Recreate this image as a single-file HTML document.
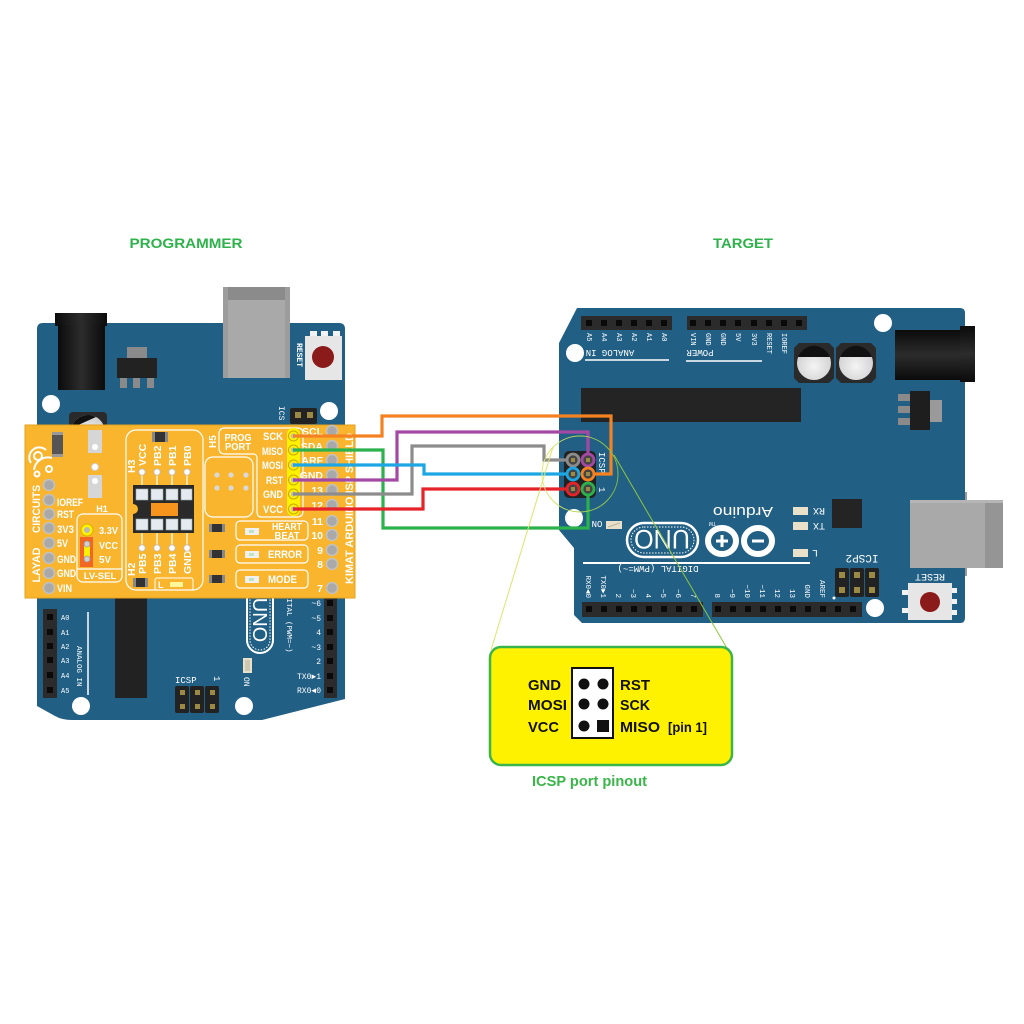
<!DOCTYPE html>
<html><head><meta charset="utf-8">
<style>
html,body{margin:0;padding:0;background:#fff;}
svg{display:block;}
.b{font-family:"Liberation Sans",sans-serif;font-weight:bold;fill:#fff;}
.s{font-family:"Liberation Sans",sans-serif;fill:#fff;}
.m{font-family:"Liberation Mono",monospace;fill:#fff;}
.k{font-family:"Liberation Sans",sans-serif;font-weight:bold;fill:#111;}
</style></head><body>
<svg width="1024" height="1024" viewBox="0 0 1024 1024" xmlns="http://www.w3.org/2000/svg">
<defs>
<linearGradient id="jack" x1="0" x2="1" y1="0" y2="0"><stop offset="0" stop-color="#0b0b0b"/><stop offset="0.5" stop-color="#2c2c2c"/><stop offset="1" stop-color="#0b0b0b"/></linearGradient>
<linearGradient id="jackv" x1="0" x2="0" y1="0" y2="1"><stop offset="0" stop-color="#0b0b0b"/><stop offset="0.5" stop-color="#2c2c2c"/><stop offset="1" stop-color="#0b0b0b"/></linearGradient>
<linearGradient id="circ" x1="0" x2="1" y1="0" y2="0"><stop offset="0" stop-color="#E3EA6E"/><stop offset="1" stop-color="#7DBE45"/></linearGradient>
<radialGradient id="cap" cx="0.5" cy="0.6" r="0.6"><stop offset="0" stop-color="#f4f4f4"/><stop offset="1" stop-color="#cfcfcf"/></radialGradient>
</defs>
<rect width="1024" height="1024" fill="#fff"/>

<!-- Titles -->
<text x="186" y="248" font-family="Liberation Sans, sans-serif" font-weight="bold" font-size="14" fill="#2DB34A" text-anchor="middle" textLength="113" lengthAdjust="spacingAndGlyphs">PROGRAMMER</text>
<text x="743" y="248" font-family="Liberation Sans, sans-serif" font-weight="bold" font-size="14" fill="#2DB34A" text-anchor="middle" textLength="60" lengthAdjust="spacingAndGlyphs">TARGET</text>

<!-- ================= PROGRAMMER BOARD ================= -->
<rect x="215" y="323" width="83" height="10" fill="#9a9a9a"/>
<path d="M43,323 H339 Q345,323 345,329 V699 L262,720 H72 Q62,720 55,716 L37,706 V329 Q37,323 43,323 Z" fill="#215F84"/>
<!-- power jack -->
<rect x="55" y="313" width="52" height="13" fill="url(#jack)"/>
<rect x="58" y="325" width="47" height="65" fill="url(#jack)"/>
<!-- regulator -->
<rect x="127" y="347" width="20" height="12" fill="#8a8a8a"/>
<rect x="117" y="358" width="40" height="20" fill="#222"/>
<rect x="120" y="378" width="7" height="10" fill="#8a8a8a"/>
<rect x="133" y="378" width="7" height="10" fill="#8a8a8a"/>
<rect x="147" y="378" width="7" height="10" fill="#8a8a8a"/>
<!-- USB -->
<rect x="223" y="287" width="67" height="91" fill="#a9a9a9"/>
<rect x="223" y="287" width="67" height="13" fill="#8b8b8b"/>
<rect x="223" y="287" width="5" height="91" fill="#9c9c9c"/>
<rect x="285" y="287" width="5" height="91" fill="#9c9c9c"/>
<!-- reset -->
<rect x="310" y="331" width="7" height="6" fill="#f2f2f2"/>
<rect x="321" y="331" width="7" height="6" fill="#f2f2f2"/>
<rect x="333" y="331" width="7" height="6" fill="#f2f2f2"/>
<rect x="305" y="336" width="37" height="44" fill="#e6e6e6"/>
<circle cx="323" cy="357" r="11" fill="#8b1a1a"/>
<text class="m" font-size="8" font-weight="bold" transform="translate(297,343) rotate(90)">RESET</text>
<!-- holes -->
<circle cx="51" cy="404" r="9" fill="#fff"/>
<circle cx="329" cy="411" r="9" fill="#fff"/>
<!-- small ICSP -->
<rect x="290" y="408" width="27" height="16" rx="2" fill="#222"/>
<rect x="295" y="412" width="6" height="6" fill="#9b8a45"/>
<rect x="307" y="412" width="6" height="6" fill="#9b8a45"/>
<text class="m" font-size="8" transform="translate(279,406) rotate(90)">ICS</text>
<!-- capacitor -->
<rect x="69" y="412" width="38" height="18" rx="4" fill="#2a2a2a"/>
<circle cx="88" cy="432" r="17" fill="url(#cap)"/>
<path d="M71.5,428 A17,17 0 0 1 96,417 Z" fill="#111"/>
<!-- lower section -->
<rect x="115" y="580" width="32" height="118" fill="#222"/>
<rect x="43" y="609" width="14" height="89" fill="#2b2b2b"/>
<rect x="47" y="614" width="6" height="6" fill="#0a0a0a"/>
<rect x="47" y="629" width="6" height="6" fill="#0a0a0a"/>
<rect x="47" y="643" width="6" height="6" fill="#0a0a0a"/>
<rect x="47" y="657" width="6" height="6" fill="#0a0a0a"/>
<rect x="47" y="672" width="6" height="6" fill="#0a0a0a"/>
<rect x="47" y="687" width="6" height="6" fill="#0a0a0a"/>
<g class="m" font-size="7">
<text x="61" y="620">A0</text><text x="61" y="635">A1</text><text x="61" y="649">A2</text>
<text x="61" y="663">A3</text><text x="61" y="678">A4</text><text x="61" y="693">A5</text>
</g>
<text class="m" font-size="7.5" transform="translate(77,646) rotate(90)">ANALOG IN</text>
<line x1="88" y1="612" x2="88" y2="695" stroke="#fff" stroke-width="1.5"/>
<!-- ICSP bottom -->
<rect x="175" y="686" width="14" height="27" rx="2" fill="#222"/>
<rect x="190" y="686" width="14" height="27" rx="2" fill="#222"/>
<rect x="205" y="686" width="14" height="27" rx="2" fill="#222"/>
<rect x="180" y="690" width="5" height="5" fill="#9b8a45"/><rect x="195" y="690" width="5" height="5" fill="#9b8a45"/><rect x="210" y="690" width="5" height="5" fill="#9b8a45"/>
<rect x="180" y="704" width="5" height="5" fill="#9b8a45"/><rect x="195" y="704" width="5" height="5" fill="#9b8a45"/><rect x="210" y="704" width="5" height="5" fill="#9b8a45"/>
<text class="m" font-size="9" x="175" y="683">ICSP</text>
<text class="m" font-size="9" transform="translate(214,676) rotate(90)">1</text>
<!-- ON led -->
<rect x="243" y="658" width="9" height="15" fill="#e8e0c8"/>
<rect x="245" y="660" width="5" height="11" fill="#cfc7b0"/>
<text class="m" font-size="8" transform="translate(244,677) rotate(90)">ON</text>
<circle cx="81" cy="706" r="9" fill="#fff"/>
<circle cx="244" cy="706" r="9" fill="#fff"/>
<!-- UNO oval -->
<rect x="247" y="560" width="26" height="93" rx="13" fill="none" stroke="#fff" stroke-width="2"/>
<rect x="250" y="563" width="20" height="87" rx="10" fill="none" stroke="#fff" stroke-width="1" stroke-dasharray="1.5,1.5"/>
<text class="s" font-size="20" text-anchor="middle" transform="translate(253,620) rotate(90)">UNO</text>
<text class="m" font-size="7.5" transform="translate(287,585) rotate(90)">DIGITAL (PWM=~)</text>
<rect x="324" y="596" width="13" height="102" fill="#2b2b2b"/>
<rect x="327" y="600" width="6" height="6" fill="#0a0a0a"/>
<rect x="327" y="615" width="6" height="6" fill="#0a0a0a"/>
<rect x="327" y="629" width="6" height="6" fill="#0a0a0a"/>
<rect x="327" y="644" width="6" height="6" fill="#0a0a0a"/>
<rect x="327" y="658" width="6" height="6" fill="#0a0a0a"/>
<rect x="327" y="673" width="6" height="6" fill="#0a0a0a"/>
<rect x="327" y="687" width="6" height="6" fill="#0a0a0a"/>
<g class="m" font-size="8" text-anchor="end">
<text x="321" y="606">~6</text><text x="321" y="621">~5</text><text x="321" y="635">4</text>
<text x="321" y="650">~3</text><text x="321" y="664">2</text><text x="321" y="679">TX0►1</text><text x="321" y="693">RX0◄0</text>
</g>

<!-- ================= SHIELD ================= -->
<rect x="25" y="425" width="330" height="173" fill="#F8B52D" stroke="#E3A11F" stroke-width="1"/>
<!-- SMD left -->
<rect x="52" y="432" width="11" height="25" fill="#555"/>
<rect x="52" y="432" width="11" height="3" fill="#999"/>
<rect x="52" y="454" width="11" height="3" fill="#999"/>
<!-- logo -->
<g fill="none" stroke="#fff" stroke-width="2">
<circle cx="38" cy="456" r="4"/>
<path d="M31,463 A10,10 0 0 1 46,450"/>
<path d="M34,470 A14,14 0 0 1 52,458"/>
<circle cx="49" cy="469" r="3"/>
<circle cx="37" cy="474" r="2.5"/>
</g>
<!-- white pads -->
<rect x="88" y="430" width="14" height="23" fill="#d6d6d6"/>
<circle cx="95" cy="447" r="3" fill="#fff"/>
<circle cx="95" cy="467" r="3.5" fill="#fff" stroke="#cfcfcf"/>
<rect x="88" y="475" width="14" height="23" fill="#d6d6d6"/>
<circle cx="95" cy="481" r="3" fill="#fff"/>
<!-- left pins -->
<g fill="#a9a9a9" stroke="#c2c2c2" stroke-width="1.5">
<circle cx="49" cy="485" r="5.5"/><circle cx="49" cy="500" r="5.5"/><circle cx="49" cy="514" r="5.5"/>
<circle cx="49" cy="528" r="5.5"/><circle cx="49" cy="543" r="5.5"/><circle cx="49" cy="558" r="5.5"/>
<circle cx="49" cy="573" r="5.5"/><circle cx="49" cy="588" r="5.5"/>
</g>
<g class="b" font-size="11">
<text x="57" y="506" textLength="26" lengthAdjust="spacingAndGlyphs">IOREF</text>
<text x="57" y="518" textLength="17" lengthAdjust="spacingAndGlyphs">RST</text>
<text x="57" y="533" textLength="17" lengthAdjust="spacingAndGlyphs">3V3</text>
<text x="57" y="547" textLength="11" lengthAdjust="spacingAndGlyphs">5V</text>
<text x="57" y="563" textLength="19" lengthAdjust="spacingAndGlyphs">GND</text>
<text x="57" y="577" textLength="19" lengthAdjust="spacingAndGlyphs">GND</text>
<text x="57" y="592" textLength="15" lengthAdjust="spacingAndGlyphs">VIN</text>
</g>
<text class="b" font-size="11" text-anchor="middle" transform="translate(40,509) rotate(-90)" textLength="48" lengthAdjust="spacingAndGlyphs">CIRCUITS</text>
<text class="b" font-size="11" text-anchor="middle" transform="translate(40,565) rotate(-90)" textLength="35" lengthAdjust="spacingAndGlyphs">LAYAD</text>
<!-- LV-SEL -->
<text class="b" font-size="9" x="102" y="512" text-anchor="middle">H1</text>
<rect x="77" y="514" width="45" height="68" rx="6" fill="none" stroke="#fff" stroke-width="1.2"/>
<line x1="77" y1="569" x2="122" y2="569" stroke="#fff" stroke-width="1.2"/>
<text class="b" font-size="9.5" x="100" y="579" text-anchor="middle">LV-SEL</text>
<circle cx="87" cy="530" r="6" fill="#FFF200" stroke="#d9b000" stroke-width="1"/>
<circle cx="87" cy="530" r="3" fill="#b8b8b8"/>
<rect x="80" y="537" width="13" height="30" fill="#F26522"/>
<rect x="84" y="546" width="6" height="11" fill="#FFF200"/>
<circle cx="87" cy="544" r="3" fill="#cfcfcf" stroke="#999" stroke-width="0.8"/>
<circle cx="87" cy="559" r="3" fill="#cfcfcf" stroke="#999" stroke-width="0.8"/>
<g class="b" font-size="10.5">
<text x="99" y="534" textLength="19" lengthAdjust="spacingAndGlyphs">3.3V</text>
<text x="99" y="549" textLength="19" lengthAdjust="spacingAndGlyphs">VCC</text>
<text x="99" y="563" textLength="12" lengthAdjust="spacingAndGlyphs">5V</text>
</g>
<!-- IC area -->
<rect x="126" y="430" width="77" height="160" rx="10" fill="none" stroke="#fff" stroke-width="1.2"/>
<rect x="152" y="432" width="16" height="10" fill="#333"/>
<rect x="152" y="432" width="3" height="10" fill="#888"/><rect x="165" y="432" width="3" height="10" fill="#888"/>
<g class="b" font-size="10.5">
<text transform="translate(135,473) rotate(-90)">H3</text>
<text transform="translate(146,466) rotate(-90)">VCC</text>
<text transform="translate(161,466) rotate(-90)">PB2</text>
<text transform="translate(176,466) rotate(-90)">PB1</text>
<text transform="translate(191,466) rotate(-90)">PB0</text>
<text transform="translate(135,576) rotate(-90)">H2</text>
<text transform="translate(146,574) rotate(-90)">PB5</text>
<text transform="translate(161,574) rotate(-90)">PB3</text>
<text transform="translate(176,574) rotate(-90)">PB4</text>
<text transform="translate(191,574) rotate(-90)">GND</text>
</g>
<g stroke="#fff" stroke-width="1.2">
<line x1="142" y1="472" x2="142" y2="486"/><line x1="157" y1="472" x2="157" y2="486"/><line x1="172" y1="472" x2="172" y2="486"/><line x1="187" y1="472" x2="187" y2="486"/>
<line x1="142" y1="532" x2="142" y2="548"/><line x1="157" y1="532" x2="157" y2="548"/><line x1="172" y1="532" x2="172" y2="548"/><line x1="187" y1="532" x2="187" y2="548"/>
</g>
<g fill="#fff" stroke="#bbb" stroke-width="0.8">
<circle cx="142" cy="472" r="3.2"/><circle cx="157" cy="472" r="3.2"/><circle cx="172" cy="472" r="3.2"/><circle cx="187" cy="472" r="3.2"/>
<circle cx="142" cy="548" r="3.2"/><circle cx="157" cy="548" r="3.2"/><circle cx="172" cy="548" r="3.2"/><circle cx="187" cy="548" r="3.2"/>
</g>
<rect x="133" y="485" width="61" height="48" fill="#2a2a2a"/>
<circle cx="133" cy="509" r="5" fill="#F8B52D"/>
<g fill="#e4eaf0" stroke="#9aa" stroke-width="0.6">
<rect x="136" y="489" width="12" height="11"/><rect x="151" y="489" width="12" height="11"/><rect x="166" y="489" width="12" height="11"/><rect x="181" y="489" width="11" height="11"/>
<rect x="136" y="519" width="12" height="11"/><rect x="151" y="519" width="12" height="11"/><rect x="166" y="519" width="12" height="11"/><rect x="181" y="519" width="11" height="11"/>
</g>
<rect x="151" y="503" width="27" height="13" fill="#F7941D"/>
<rect x="133" y="578" width="15" height="9" fill="#333"/>
<rect x="133" y="578" width="3" height="9" fill="#888"/><rect x="145" y="578" width="3" height="9" fill="#888"/>
<rect x="155" y="578" width="38" height="12" rx="2" fill="none" stroke="#fff" stroke-width="1"/>
<text class="b" font-size="9" x="158" y="588">L</text>
<rect x="170" y="582" width="13" height="5" fill="#FFF799"/>
<!-- H5 -->
<text class="b" font-size="10" transform="translate(216,448) rotate(-90)">H5</text>
<rect x="205" y="457" width="48" height="60" rx="8" fill="none" stroke="#fff" stroke-width="1.2"/>
<g fill="#d9d9d9">
<circle cx="217" cy="475" r="2.6"/><circle cx="231" cy="475" r="2.6"/><circle cx="246" cy="475" r="2.6"/>
<circle cx="217" cy="488" r="2.6"/><circle cx="231" cy="488" r="2.6"/><circle cx="246" cy="488" r="2.6"/>
</g>
<!-- PROG PORT -->
<path d="M225,428 H297 Q303,428 303,434 V511 Q303,517 297,517 H261 Q257,517 257,511 V458 Q257,454 253,454 H225 Q219,454 219,448 V434 Q219,428 225,428 Z" fill="none" stroke="#fff" stroke-width="1.2"/>
<text class="b" font-size="10" x="238" y="441" text-anchor="middle" textLength="27" lengthAdjust="spacingAndGlyphs">PROG</text>
<text class="b" font-size="10" x="238" y="450" text-anchor="middle" textLength="26" lengthAdjust="spacingAndGlyphs">PORT</text>
<g class="b" font-size="11" text-anchor="end">
<text x="283" y="440" textLength="20" lengthAdjust="spacingAndGlyphs">SCK</text>
<text x="283" y="455" textLength="21" lengthAdjust="spacingAndGlyphs">MISO</text>
<text x="283" y="469" textLength="21" lengthAdjust="spacingAndGlyphs">MOSI</text>
<text x="283" y="484" textLength="17" lengthAdjust="spacingAndGlyphs">RST</text>
<text x="283" y="498" textLength="20" lengthAdjust="spacingAndGlyphs">GND</text>
<text x="283" y="513" textLength="20" lengthAdjust="spacingAndGlyphs">VCC</text>
</g>
<rect x="287" y="428" width="13" height="88" rx="6" fill="#FFF200"/>
<g fill="#FFF200" stroke="#c9a800" stroke-width="1">
<circle cx="293.5" cy="436" r="5"/><circle cx="293.5" cy="450" r="5"/><circle cx="293.5" cy="465" r="5"/>
<circle cx="293.5" cy="480" r="5"/><circle cx="293.5" cy="494" r="5"/><circle cx="293.5" cy="509" r="5"/>
</g>
<g fill="#bdbdbd">
<circle cx="293.5" cy="436" r="2.6"/><circle cx="293.5" cy="450" r="2.6"/><circle cx="293.5" cy="465" r="2.6"/>
<circle cx="293.5" cy="480" r="2.6"/><circle cx="293.5" cy="494" r="2.6"/><circle cx="293.5" cy="509" r="2.6"/>
</g>
<!-- LED boxes -->
<rect x="236" y="521" width="72" height="19" rx="4" fill="none" stroke="#fff" stroke-width="1.2"/>
<rect x="236" y="545" width="72" height="18" rx="4" fill="none" stroke="#fff" stroke-width="1.2"/>
<rect x="236" y="570" width="72" height="18" rx="4" fill="none" stroke="#fff" stroke-width="1.2"/>
<g fill="#f0f0f0"><rect x="245" y="528" width="14" height="7"/><rect x="245" y="551" width="14" height="7"/><rect x="245" y="576" width="14" height="7"/></g>
<g fill="#bfe3c0"><rect x="249" y="530" width="5" height="3"/><rect x="249" y="553" width="5" height="3"/><rect x="249" y="578" width="5" height="3"/></g>
<g fill="#333"><rect x="209" y="524" width="16" height="8"/><rect x="209" y="550" width="16" height="8"/><rect x="209" y="575" width="16" height="8"/></g>
<g fill="#888"><rect x="209" y="524" width="3" height="8"/><rect x="222" y="524" width="3" height="8"/><rect x="209" y="550" width="3" height="8"/><rect x="222" y="550" width="3" height="8"/><rect x="209" y="575" width="3" height="8"/><rect x="222" y="575" width="3" height="8"/></g>
<text class="b" font-size="10" x="287" y="530" text-anchor="middle" textLength="30" lengthAdjust="spacingAndGlyphs">HEART</text>
<text class="b" font-size="10" x="287" y="539" text-anchor="middle" textLength="25" lengthAdjust="spacingAndGlyphs">BEAT</text>
<text class="b" font-size="11" x="268" y="558" textLength="34" lengthAdjust="spacingAndGlyphs">ERROR</text>
<text class="b" font-size="11" x="268" y="583" textLength="29" lengthAdjust="spacingAndGlyphs">MODE</text>
<!-- right pins -->
<g fill="#a9a9a9" stroke="#c2c2c2" stroke-width="1.5">
<circle cx="332" cy="431" r="5.5"/><circle cx="332" cy="446" r="5.5"/><circle cx="332" cy="460" r="5.5"/>
<circle cx="332" cy="475" r="5.5"/><circle cx="332" cy="490" r="5.5"/><circle cx="332" cy="505" r="5.5"/>
<circle cx="332" cy="521" r="5.5"/><circle cx="332" cy="535" r="5.5"/><circle cx="332" cy="550" r="5.5"/>
<circle cx="332" cy="564" r="5.5"/><circle cx="332" cy="588" r="5.5"/>
</g>
<g class="b" font-size="10.5" text-anchor="end">
<text x="323" y="435">SCL</text><text x="323" y="450">SDA</text><text x="323" y="464">ARF</text>
<text x="323" y="479">GND</text><text x="323" y="494">13</text><text x="323" y="509">12</text>
<text x="323" y="525">11</text><text x="323" y="539">10</text><text x="323" y="554">9</text>
<text x="323" y="568">8</text><text x="323" y="592">7</text>
</g>
<text class="b" font-size="11" transform="translate(353,584) rotate(-90)" textLength="151" lengthAdjust="spacingAndGlyphs">KIMAT ARDUINO ISP SHIELD</text>

<!-- ================= TARGET BOARD ================= -->
<rect x="955" y="492" width="12" height="84" fill="#9a9a9a"/>
<path d="M577,308 H960 Q965,308 965,313 V618 Q965,623 960,623 H582 L574,615 V548 L559,530 V343 Z" fill="#215F84"/>
<!-- analog header -->
<rect x="581" y="316" width="91" height="14" fill="#2b2b2b"/>
<g fill="#0a0a0a">
<rect x="586" y="320" width="6" height="6"/><rect x="601" y="320" width="6" height="6"/><rect x="616" y="320" width="6" height="6"/>
<rect x="631" y="320" width="6" height="6"/><rect x="646" y="320" width="6" height="6"/><rect x="661" y="320" width="6" height="6"/>
</g>
<g class="m" font-size="7">
<text transform="translate(587,333) rotate(90)">A5</text><text transform="translate(602,333) rotate(90)">A4</text>
<text transform="translate(617,333) rotate(90)">A3</text><text transform="translate(632,333) rotate(90)">A2</text>
<text transform="translate(647,333) rotate(90)">A1</text><text transform="translate(662,333) rotate(90)">A0</text>
</g>
<text class="m" font-size="9" text-anchor="middle" transform="translate(610,350) rotate(180)">ANALOG IN</text>
<line x1="585" y1="360" x2="669" y2="360" stroke="#fff" stroke-width="1.5"/>
<!-- power header -->
<rect x="687" y="316" width="120" height="14" fill="#2b2b2b"/>
<g fill="#0a0a0a">
<rect x="690" y="320" width="6" height="6"/><rect x="705" y="320" width="6" height="6"/><rect x="720" y="320" width="6" height="6"/>
<rect x="735" y="320" width="6" height="6"/><rect x="751" y="320" width="6" height="6"/><rect x="766" y="320" width="6" height="6"/>
<rect x="781" y="320" width="6" height="6"/><rect x="796" y="320" width="6" height="6"/>
</g>
<g class="m" font-size="7">
<text transform="translate(691,333) rotate(90)">VIN</text><text transform="translate(706,333) rotate(90)">GND</text>
<text transform="translate(721,333) rotate(90)">GND</text><text transform="translate(736,333) rotate(90)">5V</text>
<text transform="translate(752,333) rotate(90)">3V3</text><text transform="translate(767,333) rotate(90)">RESET</text>
<text transform="translate(782,333) rotate(90)">IOREF</text>
</g>
<text class="m" font-size="9" text-anchor="middle" transform="translate(700,350) rotate(180)">POWER</text>
<line x1="686" y1="361" x2="762" y2="361" stroke="#fff" stroke-width="1.5"/>
<!-- capacitors -->
<path d="M799,343 H829 L834,348 V378 L829,383 H799 L794,378 V348 Z" fill="#2a2a2a"/>
<circle cx="814" cy="363" r="17" fill="url(#cap)"/>
<path d="M798,357 A17,17 0 0 1 830,357 Z" fill="#111"/>
<path d="M841,343 H871 L876,348 V378 L871,383 H841 L836,378 V348 Z" fill="#2a2a2a"/>
<circle cx="856" cy="363" r="17" fill="url(#cap)"/>
<path d="M840,357 A17,17 0 0 1 872,357 Z" fill="#111"/>
<!-- power jack -->
<rect x="895" y="330" width="67" height="50" fill="url(#jackv)"/>
<rect x="960" y="326" width="15" height="56" fill="url(#jackv)"/>
<!-- regulator -->
<rect x="898" y="394" width="13" height="7" fill="#8a8a8a"/>
<rect x="898" y="406" width="13" height="7" fill="#8a8a8a"/>
<rect x="898" y="418" width="13" height="7" fill="#8a8a8a"/>
<rect x="929" y="400" width="13" height="22" fill="#9a9a9a"/>
<rect x="910" y="391" width="20" height="39" fill="#1e1e1e"/>
<!-- chip -->
<rect x="581" y="388" width="220" height="34" fill="#242424"/>
<!-- holes -->
<circle cx="575" cy="353" r="9" fill="#fff"/>
<circle cx="883" cy="323" r="9" fill="#fff"/>
<circle cx="574" cy="518" r="9" fill="#fff"/>
<circle cx="875" cy="608" r="9" fill="#fff"/>
<!-- ICSP target -->
<rect x="564" y="451" width="32" height="47" rx="5" fill="#222"/>
<text class="m" font-size="9" transform="translate(599,452) rotate(90)">ICSP</text>
<text class="m" font-size="9" transform="translate(599,487) rotate(90)">1</text>
<!-- ON led -->
<text class="m" font-size="9" text-anchor="middle" transform="translate(597,521) rotate(180)">ON</text>
<rect x="606" y="521" width="16" height="8" fill="#e8e0c8"/>
<line x1="608" y1="527" x2="620" y2="523" stroke="#bdb59d" stroke-width="1"/>
<!-- UNO oval -->
<rect x="627" y="523" width="71" height="34" rx="17" fill="none" stroke="#fff" stroke-width="2.5"/>
<rect x="631" y="527" width="63" height="26" rx="13" fill="none" stroke="#fff" stroke-width="1" stroke-dasharray="1.5,1.5"/>
<text class="s" font-size="27" text-anchor="middle" transform="translate(662,530) rotate(180)" textLength="56" lengthAdjust="spacingAndGlyphs">UNO</text>
<!-- Arduino logo -->
<ellipse cx="722" cy="541" rx="14" ry="13" fill="none" stroke="#fff" stroke-width="6"/>
<ellipse cx="758" cy="541" rx="14" ry="13" fill="none" stroke="#fff" stroke-width="6"/>
<rect x="716" y="539.5" width="12" height="3" fill="#fff"/><rect x="720.5" y="535" width="3" height="12" fill="#fff"/>
<rect x="752" y="539.5" width="12" height="3" fill="#fff"/>
<text class="s" font-size="15" text-anchor="middle" transform="translate(743,507) rotate(180)" textLength="60" lengthAdjust="spacingAndGlyphs">Arduino</text>
<text class="s" font-size="5" transform="translate(716,522) rotate(180)">TM</text>
<!-- RX TX L -->
<g fill="#e8e0c8"><rect x="793" y="507" width="15" height="8"/><rect x="793" y="522" width="15" height="8"/><rect x="793" y="549" width="15" height="8"/></g>
<text class="m" font-size="10" text-anchor="middle" transform="translate(819,508) rotate(180)">RX</text>
<text class="m" font-size="10" text-anchor="middle" transform="translate(819,523) rotate(180)">TX</text>
<text class="m" font-size="10" text-anchor="middle" transform="translate(815,550) rotate(180)">L</text>
<rect x="832" y="499" width="30" height="29" fill="#242424"/>
<!-- USB -->
<rect x="910" y="500" width="93" height="68" fill="#a9a9a9"/>
<rect x="985" y="500" width="18" height="68" fill="#959595"/>
<rect x="910" y="500" width="93" height="3" fill="#b5b5b5"/>
<!-- reset -->
<rect x="902" y="590" width="7" height="5" fill="#f2f2f2"/><rect x="902" y="608" width="7" height="5" fill="#f2f2f2"/>
<rect x="951" y="588" width="6" height="5" fill="#f2f2f2"/><rect x="951" y="599" width="6" height="5" fill="#f2f2f2"/><rect x="951" y="610" width="6" height="5" fill="#f2f2f2"/>
<rect x="908" y="583" width="44" height="37" fill="#e6e6e6"/>
<circle cx="930" cy="602" r="10" fill="#8b1a1a"/>
<text class="m" font-size="10" text-anchor="middle" transform="translate(930,574) rotate(180)">RESET</text>
<!-- ICSP2 -->
<rect x="835" y="568" width="14" height="29" rx="2" fill="#222"/>
<rect x="850" y="568" width="14" height="29" rx="2" fill="#222"/>
<rect x="865" y="568" width="14" height="29" rx="2" fill="#222"/>
<g fill="#9b8a45"><rect x="839" y="572" width="6" height="6"/><rect x="854" y="572" width="6" height="6"/><rect x="869" y="572" width="6" height="6"/>
<rect x="839" y="587" width="6" height="6"/><rect x="854" y="587" width="6" height="6"/><rect x="869" y="587" width="6" height="6"/></g>
<text class="m" font-size="11" text-anchor="middle" transform="translate(862,555) rotate(180)">ICSP2</text>
<line x1="583" y1="563" x2="810" y2="563" stroke="#fff" stroke-width="2"/>
<text class="m" font-size="9" text-anchor="middle" transform="translate(658,566) rotate(180)">DIGITAL (PWM=~)</text>
<circle cx="834" cy="598" r="1.5" fill="#fff"/>
<!-- digital headers -->
<rect x="582" y="602" width="121" height="15" fill="#2b2b2b"/>
<rect x="712" y="602" width="150" height="15" fill="#2b2b2b"/>
<g fill="#0a0a0a">
<rect x="586" y="606" width="6" height="6"/><rect x="601" y="606" width="6" height="6"/><rect x="616" y="606" width="6" height="6"/><rect x="631" y="606" width="6" height="6"/>
<rect x="646" y="606" width="6" height="6"/><rect x="661" y="606" width="6" height="6"/><rect x="676" y="606" width="6" height="6"/><rect x="691" y="606" width="6" height="6"/>
<rect x="715" y="606" width="6" height="6"/><rect x="730" y="606" width="6" height="6"/><rect x="745" y="606" width="6" height="6"/><rect x="760" y="606" width="6" height="6"/>
<rect x="775" y="606" width="6" height="6"/><rect x="790" y="606" width="6" height="6"/><rect x="805" y="606" width="6" height="6"/><rect x="820" y="606" width="6" height="6"/>
<rect x="835" y="606" width="6" height="6"/><rect x="850" y="606" width="6" height="6"/>
</g>
<g class="m" font-size="7.5" text-anchor="end">
<text transform="translate(586,598) rotate(90)">RX0◄0</text>
<text transform="translate(601,598) rotate(90)">TX0►1</text>
<text transform="translate(616,598) rotate(90)">2</text>
<text transform="translate(631,598) rotate(90)">~3</text>
<text transform="translate(646,598) rotate(90)">4</text>
<text transform="translate(661,598) rotate(90)">~5</text>
<text transform="translate(676,598) rotate(90)">~6</text>
<text transform="translate(691,598) rotate(90)">7</text>
<text transform="translate(715,598) rotate(90)">8</text>
<text transform="translate(730,598) rotate(90)">~9</text>
<text transform="translate(745,598) rotate(90)">~10</text>
<text transform="translate(760,598) rotate(90)">~11</text>
<text transform="translate(775,598) rotate(90)">12</text>
<text transform="translate(790,598) rotate(90)">13</text>
<text transform="translate(805,598) rotate(90)">GND</text>
<text transform="translate(820,598) rotate(90)">AREF</text>
</g>

<!-- ================= WIRES ================= -->
<g fill="none" stroke-width="3.2" stroke-linejoin="miter">
<path d="M293,450 H383 V528 H588 V489" stroke="#2BB24C"/>
<path d="M293,494 H412 V446 H544 V460 H573" stroke="#8C8C8C"/>
<path d="M293,480 H397 V432 H588 V460" stroke="#A349A4"/>
<path d="M293,465 H424 V474 H573" stroke="#1CA6E3"/>
<path d="M293,509 H423 V489 H573" stroke="#E52328"/>
<path d="M293,436 H382 V416 H611 V474 H588" stroke="#F58220"/>
</g>
<!-- ICSP pads with rings -->
<g stroke-width="2.8" fill="#444">
<circle cx="573" cy="460" r="6" stroke="#8C8C8C"/>
<circle cx="588" cy="460" r="6" stroke="#A349A4"/>
<circle cx="573" cy="474" r="6" stroke="#1CA6E3"/>
<circle cx="588" cy="474" r="6" stroke="#F58220"/>
<circle cx="573" cy="489" r="6" stroke="#E52328"/>
<circle cx="588" cy="489" r="6" stroke="#2BB24C"/>
</g>
<g fill="#9b8a45">
<rect x="571" y="458" width="4" height="4"/><rect x="586" y="458" width="4" height="4"/>
<rect x="571" y="472" width="4" height="4"/><rect x="586" y="472" width="4" height="4"/>
<rect x="571" y="487" width="4" height="4"/><rect x="586" y="487" width="4" height="4"/>
</g>

<!-- callout circle and lines -->
<circle cx="580" cy="474" r="38" fill="none" stroke="url(#circ)" stroke-width="1"/>
<line x1="553" y1="447" x2="491" y2="650" stroke="#DCE56A" stroke-width="1"/>
<line x1="614" y1="455" x2="728" y2="650" stroke="#8DC63F" stroke-width="1"/>

<!-- ================= ICSP PINOUT BOX ================= -->
<rect x="490" y="647" width="242" height="118" rx="11" fill="#FFF200" stroke="#3AB54A" stroke-width="2.5"/>
<rect x="572" y="668" width="41" height="70" fill="#fff" stroke="#111" stroke-width="2"/>
<g fill="#111">
<circle cx="584" cy="684" r="5.5"/><circle cx="603" cy="684" r="5.5"/>
<circle cx="584" cy="704" r="5.5"/><circle cx="603" cy="704" r="5.5"/>
<circle cx="584" cy="726" r="5.5"/><rect x="597" y="720" width="12" height="12"/>
</g>
<g class="k" font-size="15">
<text x="528" y="690" textLength="33" lengthAdjust="spacingAndGlyphs">GND</text>
<text x="528" y="710" textLength="39" lengthAdjust="spacingAndGlyphs">MOSI</text>
<text x="528" y="732" textLength="31" lengthAdjust="spacingAndGlyphs">VCC</text>
<text x="620" y="690" textLength="30" lengthAdjust="spacingAndGlyphs">RST</text>
<text x="620" y="710" textLength="30" lengthAdjust="spacingAndGlyphs">SCK</text>
<text x="620" y="732" textLength="40" lengthAdjust="spacingAndGlyphs">MISO</text>
<text x="668" y="732" font-size="14" textLength="39" lengthAdjust="spacingAndGlyphs">[pin 1]</text>
</g>
<text x="532" y="786" font-family="Liberation Sans, sans-serif" font-weight="bold" font-size="15" fill="#3AB54A" textLength="115" lengthAdjust="spacingAndGlyphs">ICSP port pinout</text>
</svg>
</body></html>
